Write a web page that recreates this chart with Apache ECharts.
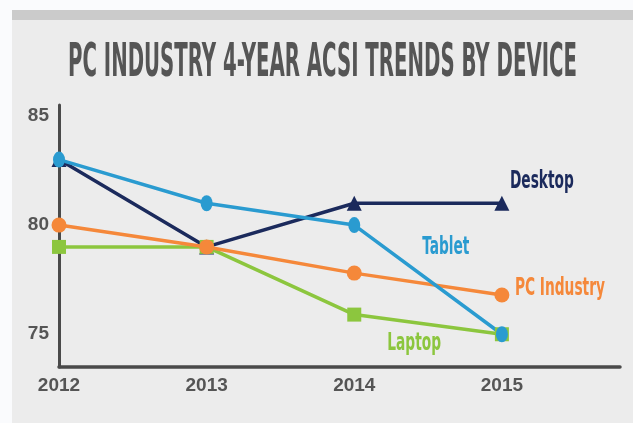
<!DOCTYPE html>
<html>
<head>
<meta charset="utf-8">
<script src="https://cdn.jsdelivr.net/npm/echarts@6/dist/echarts.min.js"></script>
<style>
html,body{margin:0;padding:0;background:#fafbfd;}
#main{width:633px;height:423px;}
</style>
</head>
<body>
<div id="main"></div>
<script>
const titleText = 'PC INDUSTRY 4-YEAR ACSI TRENDS BY DEVICE';
const years = [2012, 2013, 2014, 2015];
const yTicks = [75, 80, 85];
const desktop = [83, 79, 81, 81];
const laptop = [79, 79, 75.9, 75];
const pcIndustry = [80, 79, 77.8, 76.8];
const tablet = [83, 81, 80, 75];

const seriesNames = ['Desktop', 'Laptop', 'PC Industry', 'Tablet'];
const seriesColors = ['#1b2a5c', '#8cc63e', '#f5883a', '#2a9bd0'];

const narrow = "'DejaVu Sans Condensed', 'Liberation Sans', sans-serif";
const axisFont = "'Liberation Sans', Arial, sans-serif";

const cv = document.createElement('canvas').getContext('2d');
cv.font = "bold 46px " + narrow;
const titleScale = 509 / cv.measureText(titleText).width;
cv.font = "bold 24px " + narrow;
const labelScale = 90 / cv.measureText('PC Industry').width;

function pts(vals) { return years.map((y, i) => [y, vals[i]]); }

const chart = echarts.init(document.getElementById('main'), null, { renderer: 'canvas' });
const baseGraphic = [
  { type: 'rect', z: -10, shape: { x: 12, y: 10, width: 621, height: 10 }, style: { fill: '#cbcbcb' }, silent: true },
  { type: 'rect', z: -10, shape: { x: 12, y: 20, width: 621, height: 403 }, style: { fill: '#ececec' }, silent: true },
  { type: 'text', x: 68, y: 40, scaleX: titleScale, scaleY: 1.02, style: { text: titleText, fill: '#555555', font: 'bold 46px ' + narrow, textVerticalAlign: 'top' } }
];
chart.setOption({
  animation: false,
  backgroundColor: 'transparent',
  graphic: baseGraphic,
  grid: { left: 59, right: 13, top: 105, bottom: 56, containLabel: false },
  xAxis: {
    type: 'value', min: 2012, max: 2015.8,
    axisLine: { show: true, lineStyle: { color: '#4a4a4a', width: 3.5 } },
    axisTick: { show: false },
    splitLine: { show: false },
    axisLabel: { customValues: years, color: '#555555', fontFamily: axisFont, fontWeight: 'bold', fontSize: 19, margin: 9, formatter: v => String(v) }
  },
  yAxis: {
    type: 'value', min: 73.5, max: 85.5,
    axisLine: { show: true, lineStyle: { color: '#4a4a4a', width: 3 } },
    axisTick: { show: false },
    splitLine: { show: false },
    axisLabel: { customValues: yTicks, color: '#555555', fontFamily: axisFont, fontWeight: 'bold', fontSize: 19, margin: 10 }
  },
  series: [
    { name: 'Desktop', type: 'line', data: pts(desktop),
      symbol: 'triangle', symbolSize: 15, lineStyle: { color: seriesColors[0], width: 3.5 }, itemStyle: { color: seriesColors[0] } },
    { name: 'Laptop', type: 'line', data: pts(laptop),
      symbol: 'rect', symbolSize: 14, lineStyle: { color: seriesColors[1], width: 3.5 }, itemStyle: { color: seriesColors[1] } },
    { name: 'PC Industry', type: 'line', data: pts(pcIndustry),
      symbol: 'circle', symbolSize: 15, lineStyle: { color: seriesColors[2], width: 3.5 }, itemStyle: { color: seriesColors[2] } },
    { name: 'Tablet', type: 'line', data: pts(tablet),
      symbol: 'circle', symbolSize: [12, 16], lineStyle: { color: seriesColors[3], width: 3.5 }, itemStyle: { color: seriesColors[3] } }
  ]
});

// series name labels anchored to data points
const anchors = [
  { idx: 0, at: [years[3], desktop[3]], d: [8, -21] },
  { idx: 1, at: [years[2], laptop[2]], d: [33, 29] },
  { idx: 2, at: [years[3], pcIndustry[3]], d: [13, -6] },
  { idx: 3, at: [years[2], tablet[2]], d: [68, 23] }
];
const labelGraphics = anchors.map(a => {
  const p = chart.convertToPixel({ gridIndex: 0 }, a.at);
  return { type: 'text', x: p[0] + a.d[0], y: p[1] + a.d[1], scaleX: labelScale,
    style: { text: seriesNames[a.idx], fill: seriesColors[a.idx], font: 'bold 24px ' + narrow, textVerticalAlign: 'middle' } };
});
chart.setOption({ graphic: baseGraphic.concat(labelGraphics) });
</script>
</body>
</html>
